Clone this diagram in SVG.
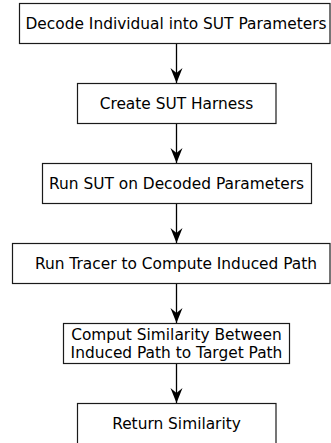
<svg xmlns="http://www.w3.org/2000/svg" width="331" height="443" viewBox="0 0 331 443">
  <defs>
    <style>
      .box { fill: #ffffff; stroke: #1a1a1a; stroke-width: 1.2; }
      .lbl { font-family: "DejaVu Sans", Verdana, sans-serif; font-size: 15.4px; fill: #000; text-anchor: middle; }
      .edge { stroke: #000; stroke-width: 1.3; fill: none; }
    </style>
    <!-- notched arrowhead; x axis follows the line direction -->
    <marker id="head" markerUnits="userSpaceOnUse" markerWidth="16" markerHeight="14" viewBox="-16 -7 16 14" refX="0" refY="0" orient="auto">
      <path d="M0,0 L-15,-6 L-10,0 L-15,6 Z" fill="#000"/>
    </marker>
  </defs>
  <rect width="331" height="443" fill="#ffffff"/>

  <g id="edges">
    <line class="edge" x1="176.5" y1="43" x2="176.5" y2="83" marker-end="url(#head)"/>
    <line class="edge" x1="176.5" y1="124" x2="176.5" y2="163" marker-end="url(#head)"/>
    <line class="edge" x1="176.5" y1="203" x2="176.5" y2="243" marker-end="url(#head)"/>
    <line class="edge" x1="176.5" y1="283" x2="176.5" y2="323" marker-end="url(#head)"/>
    <line class="edge" x1="176.5" y1="363" x2="176.5" y2="403" marker-end="url(#head)"/>
  </g>

  <g id="decode">
    <rect class="box" x="19.5" y="3.5" width="310.5" height="40"/>
    <text class="lbl" x="176" y="29">Decode Individual into SUT Parameters</text>
  </g>
  <g id="harness">
    <rect class="box" x="77.5" y="83.5" width="198.5" height="40"/>
    <text class="lbl" x="176.5" y="109">Create SUT Harness</text>
  </g>
  <g id="run-sut">
    <rect class="box" x="42.5" y="163.5" width="269" height="40"/>
    <text class="lbl" x="176.5" y="189">Run SUT on Decoded Parameters</text>
  </g>
  <g id="tracer">
    <rect class="box" x="12.5" y="243.5" width="317.5" height="40"/>
    <text class="lbl" x="176" y="269">Run Tracer to Compute Induced Path</text>
  </g>
  <g id="similarity">
    <rect class="box" x="63.5" y="323.5" width="226" height="40"/>
    <text class="lbl" x="176.5" y="340">Comput Similarity Between</text>
    <text class="lbl" x="176.5" y="358">Induced Path to Target Path</text>
  </g>
  <g id="return">
    <rect class="box" x="77.5" y="403.5" width="198.5" height="50"/>
    <text class="lbl" x="176.5" y="429">Return Similarity</text>
  </g>
</svg>
